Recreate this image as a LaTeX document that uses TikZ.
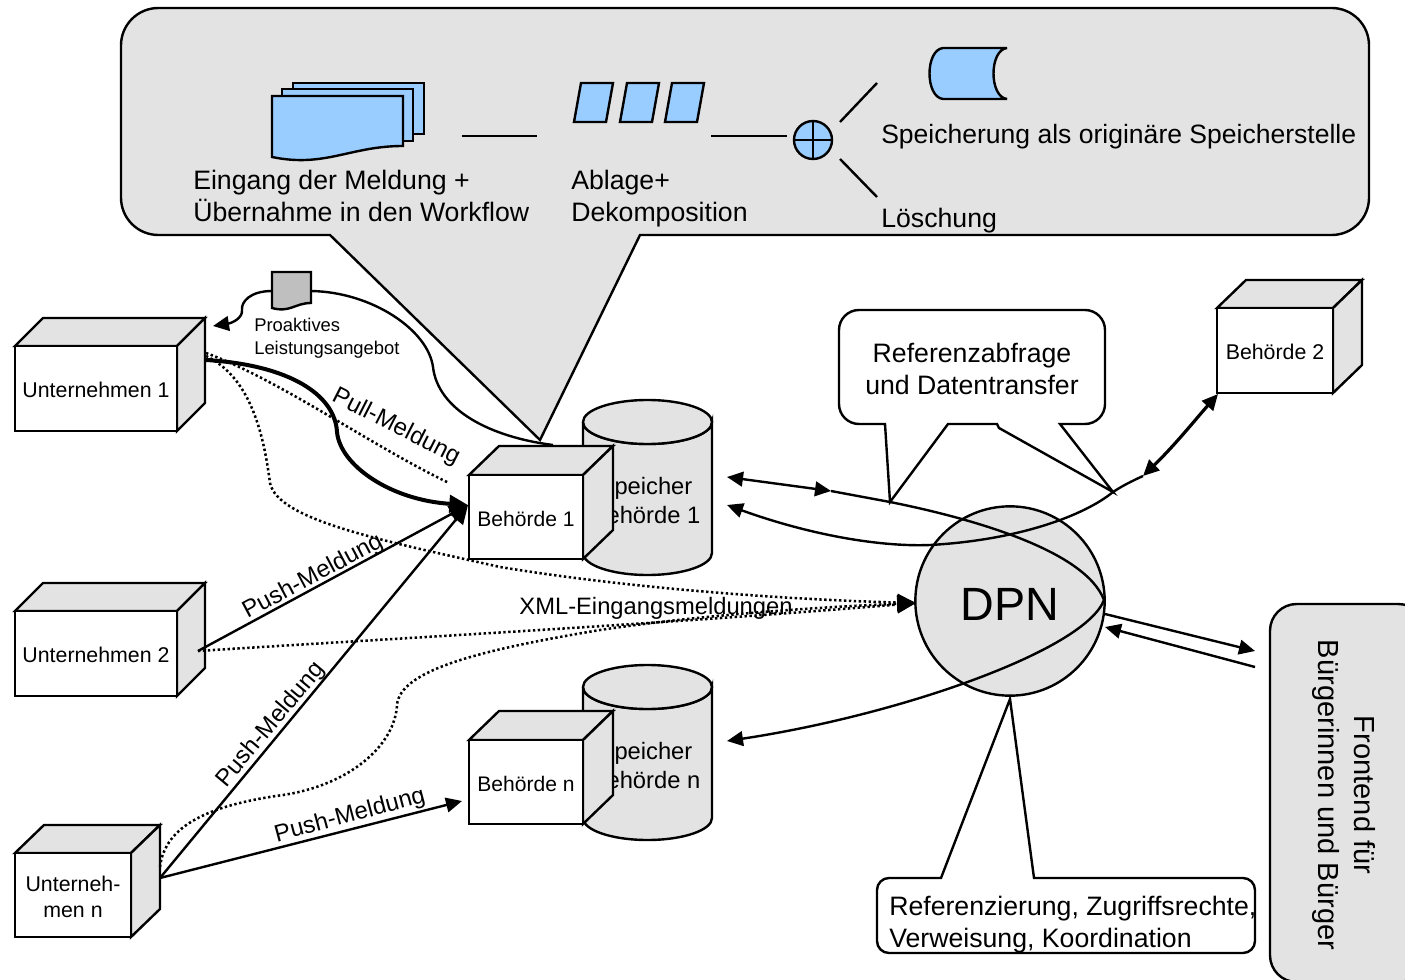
\documentclass[tikz,border=0pt]{standalone}
\usepackage{fontspec}
\setmainfont{Liberation Sans}
\usetikzlibrary{arrows.meta}
\definecolor{panelgrey}{HTML}{E3E3E3}
\definecolor{docgrey}{HTML}{BFBFBF}
\definecolor{lightblue}{HTML}{99CCFF}
\tikzset{
  ln/.style={draw=black,line width=1.8pt,line join=miter},
  grey/.style={ln,fill=panelgrey},
  blue/.style={ln,fill=lightblue},
  dots/.style={draw=black,line width=1.9pt,dash pattern=on 1.8pt off 1.9pt},
  tip/.style={-{Triangle[length=12pt,width=11pt]}},
  tipstart/.style={{Triangle[length=12pt,width=11pt]}-},
  bothtip/.style={{Triangle[length=12pt,width=11pt]}-{Triangle[length=12pt,width=11pt]}},
  bigtip/.style={-{Triangle[length=14pt,width=13pt]}},
  txtL/.style={inner sep=0pt,font=\fontsize{20}{24}\selectfont,align=left},
  txtC/.style={inner sep=0pt,font=\fontsize{20}{24}\selectfont,align=center},
  txtBox/.style={inner sep=0pt,align=center},
  txtLab/.style={inner sep=0pt,font=\fontsize{18}{22}\selectfont},
  txtSmall/.style={inner sep=0pt,font=\fontsize{13.8}{17.3}\selectfont,align=left},
}
% #1 name, #2 x, #3 y (front top-left), #4 w, #5 h, #6 dx, #7 dy, #8 text, #9 font size
\newcommand{\cubebox}[9]{
  \path[grey] ({#2},{#3}) -- ({#2+#6},{#3-#7}) -- ({#2+#4+#6},{#3-#7}) -- ({#2+#4},{#3}) -- cycle;
  \path[grey] ({#2+#4},{#3}) -- ({#2+#4+#6},{#3-#7}) -- ({#2+#4+#6},{#3+#5-#7}) -- ({#2+#4},{#3+#5}) -- cycle;
  \path[ln,fill=white] ({#2},{#3}) rectangle ({#2+#4},{#3+#5});
  \node[txtBox,font=\fontsize{#9}{19.5}\selectfont] (#1) at ({#2+#4/2},{#3+#5/2+1.5}) {#8};
}
% #1 name, #2 x left, #3 x right, #4 y top centre, #5 y bottom, #6 text
\newcommand{\drum}[6]{
  \path[grey] ({#2},{#4}) -- ({#2},{#5}) arc[start angle=180,end angle=360,x radius={(#3-#2)/2*0.75pt},y radius=16.5pt] -- ({#3},{#4}) arc[start angle=0,end angle=-180,x radius={(#3-#2)/2*0.75pt},y radius=16.5pt];
  \path[grey] ({(#2+#3)/2},{#4}) ellipse[x radius={(#3-#2)/2*0.75pt},y radius=16.5pt];
  \node[inner sep=0pt,font=\fontsize{17.8}{22}\selectfont,align=center] (#1) at ({(#2+#3)/2-2},{#4+78.5}) {#6};
}
\begin{document}
\begin{tikzpicture}[x=0.75pt,y=-0.75pt]
\path[use as bounding box,fill=white] (0,0) rectangle (1405,980);

% top callout
\path[grey] (640,235) [rounded corners=28pt] -- (1369,235) -- (1369,8) -- (121,8) -- (121,235) [sharp corners] -- (330,235) -- (540,440) -- cycle;

% stacked documents
\path[blue] (293,83) rectangle (424,134);
\path[blue] (282,89) rectangle (413,141);
\path[blue] (272,96) -- (403,96) -- (403,146) .. controls (350,146) and (325,168) .. (272,157) -- cycle;
\node[txtL,anchor=north west] (eingang) at (193,170) {Eingang der Meldung +\\Übernahme in den Workflow};
\coordinate (a1) at (462,136);
\coordinate (a2) at (537,136);
\draw[ln] (a1) -- (a2);

% parallelograms
\path[blue] (581,83) -- (613,83) -- (606,122) -- (574,122) -- cycle;
\path[blue] (627,83) -- (659,83) -- (652,122) -- (620,122) -- cycle;
\path[blue] (672,83) -- (704,83) -- (697,122) -- (665,122) -- cycle;
\node[txtL,anchor=north west] (ablage) at (571,170) {Ablage+\\Dekomposition};

% gateway
\node[circle,blue,minimum size=28.5pt,inner sep=0pt] (gate) at (813,140) {};
\draw[ln] (gate.north) -- (gate.south);
\draw[ln] (gate.west) -- (gate.east);
\coordinate (b1) at (711,136);
\coordinate (b2) at (787,136);
\draw[ln] (b1) -- (b2);
\coordinate (c1) at (840,122);
\coordinate (c2) at (877,83);
\coordinate (d1) at (840,159);
\coordinate (d2) at (877,197);
\draw[ln] (c1) -- (c2);
\draw[ln] (d1) -- (d2);

% tape
\path[blue,line join=bevel] (1007,48) -- (943,48) .. controls (925,50) and (925,97) .. (943,99) -- (1007,99) .. controls (989,97) and (989,50) .. (1007,48) -- cycle;
\node[txtL,anchor=west,font=\fontsize{19.9}{24}\selectfont] (speich) at (881,137) {Speicherung als originäre Speicherstelle};
\node[txtL,anchor=west] (loesch) at (881,221) {Löschung};

% proactive offer
\coordinate (pstart) at (553,445);
\coordinate (pdocR) at (311,291);
\coordinate (pdocL) at (272,291);
\coordinate (ptip) at (213,326);
\draw[ln] (pdocR) .. controls (372,292) and (428,330) .. (433,367) .. controls (438,410) and (490,437) .. (pstart);
\draw[ln,tip] (pdocL) .. controls (250,291) and (241,302) .. (242,310) .. controls (243,318) and (232,323) .. (ptip);
\path[ln,fill=docgrey] (272,272) -- (311,272) -- (311,303) .. controls (295,303) and (290,313) .. (272,308) -- cycle;
\node[txtSmall,anchor=north west] (proakt) at (254,318) {Proaktives\\Leistungsangebot};

% storage and authorities
\drum{st1}{583}{712}{422}{553}{Speicher\\Behörde 1}
\drum{stn}{583}{712}{687}{818}{Speicher\\Behörde n}
\cubebox{u1}{15}{346}{162}{85}{28}{28}{Unternehmen 1}{16}
\cubebox{u2}{15}{611}{162}{85}{28}{28}{Unternehmen 2}{16}
\cubebox{un}{15}{853}{116}{84}{29}{28}{Unterneh-\\men n}{16}
\cubebox{b1}{469}{475}{114}{84}{30}{29}{Behörde 1}{15.8}
\cubebox{bn}{469}{740}{114}{84}{30}{29}{Behörde n}{15.8}
\cubebox{b2}{1217}{308}{116}{85}{29}{28}{Behörde 2}{16}

% DPN
\node[circle,grey,minimum size=142pt,inner sep=0pt] (dpn) at (1010,601) {};
\node[inner sep=0pt,font=\fontsize{35}{40}\selectfont] (dpntxt) at (1010,604) {DPN};

% frontend
\path[ln,fill=panelgrey,rounded corners=20pt] (1270,982) -- (1270,604) -- (1425,604) -- (1425,982) -- cycle;
\node[txtC,rotate=-90,font=\fontsize{21.8}{27}\selectfont] (front) at (1344,795) {Frontend für\\Bürgerinnen und Bürger};

% callouts
\path[ln,fill=white] (1060,424) [rounded corners=15pt] -- (1105,424) -- (1105,310) -- (839,310) -- (839,424) [sharp corners] -- (885,424) -- (890,502) -- (948,424) -- (997,424) -- (999,428) -- (1113,492) -- cycle;
\node[txtC] (refabf) at (972,369) {Referenzabfrage\\und Datentransfer};
\path[ln,fill=white] (1034,878) [rounded corners=9pt] -- (1255,878) -- (1255,953) -- (877,953) -- (877,878) [sharp corners] -- (941,878) -- (1010,699) -- cycle;
\node[txtL,anchor=north west] (refz) at (889,896) {Referenzierung, Zugriffsrechte,\\Verweisung, Koordination};

% connector ends
\coordinate (u1a) at (206,353);
\coordinate (u1b) at (206,356);
\coordinate (u1c) at (206,360);
\coordinate (u2a) at (198,651);
\coordinate (una) at (160,867);
\coordinate (unb) at (160,878);
\coordinate (b1in) at (468,505);
\coordinate (pullend) at (449,483);
\coordinate (dpnin) at (916,603);
\coordinate (bnin) at (462,801);

% dotted
\draw[dots] (u1a) .. controls (280,380) and (370,445) .. (pullend);
\draw[dots,bigtip] (u1b) .. controls (245,375) and (262,420) .. (270,483) .. controls (278,520) and (380,540) .. (500,567) .. controls (640,590) and (800,600) .. (dpnin);
\draw[dots,bigtip] (u2a) .. controls (400,638) and (650,625) .. (dpnin);
\draw[dots,bigtip] (una) .. controls (165,825) and (210,805) .. (283,795) .. controls (350,785) and (395,745) .. (397,705) .. controls (400,670) and (480,650) .. (600,630) .. controls (700,615) and (820,607) .. (dpnin);

% solid arrows
\draw[draw=black,line width=3pt,bigtip] (u1c) .. controls (290,365) and (335,395) .. (337,432) .. controls (340,465) and (390,500) .. (b1in);
\draw[ln,bigtip] (u2a) -- (b1in);
\draw[ln,bigtip] (unb) -- (b1in);
\draw[ln,tip] (unb) -- (bnin);

% labels
\node[txtLab,rotate=-27] (pull) at (396,427) {Pull-Meldung};
\node[txtLab,rotate=28] (push2) at (313,577) {Push-Meldung};
\node[txtLab,rotate=50] (pushn) at (271,725) {Push-Meldung};
\node[txtLab,rotate=15] (pushb) at (350,816) {Push-Meldung};
\node[txtLab,font=\fontsize{17.8}{22}\selectfont] (xml) at (656,608) {XML-Eingangsmeldungen};

% authority links
\coordinate (s1a) at (727,477);
\coordinate (s1mid) at (831,491);
\coordinate (s1b) at (727,505);
\coordinate (s1c) at (890,502);
\coordinate (snb) at (727,741);
\coordinate (dpnR) at (1104,600);
\coordinate (b2in) at (1218,394);
\coordinate (b2mid) at (1143,476);
\coordinate (fr1) at (1255,651);
\coordinate (fr2) at (1255,667);
\coordinate (dr1) at (1105,614);
\coordinate (dr2) at (1105,627);
\draw[ln,bothtip] (s1a) -- (s1mid);
\draw[ln] (s1mid) -- (s1c) .. controls (970,518) and (1085,550) .. (dpnR);
\draw[ln,tip] (dpnR) .. controls (1085,650) and (900,715) .. (snb);
\draw[ln,tipstart] (s1b) .. controls (810,535) and (880,547) .. (930,545) .. controls (1020,540) and (1085,515) .. (1113,492) .. controls (1122,486) and (1132,481) .. (b2mid);
\draw[draw=black,line width=2.4pt,bothtip] (b2mid) .. controls (1175,445) and (1195,420) .. (b2in);
\draw[ln,tip] (dr1) -- (fr1);
\draw[ln,tip] (fr2) -- (dr2);
\end{tikzpicture}
\end{document}
